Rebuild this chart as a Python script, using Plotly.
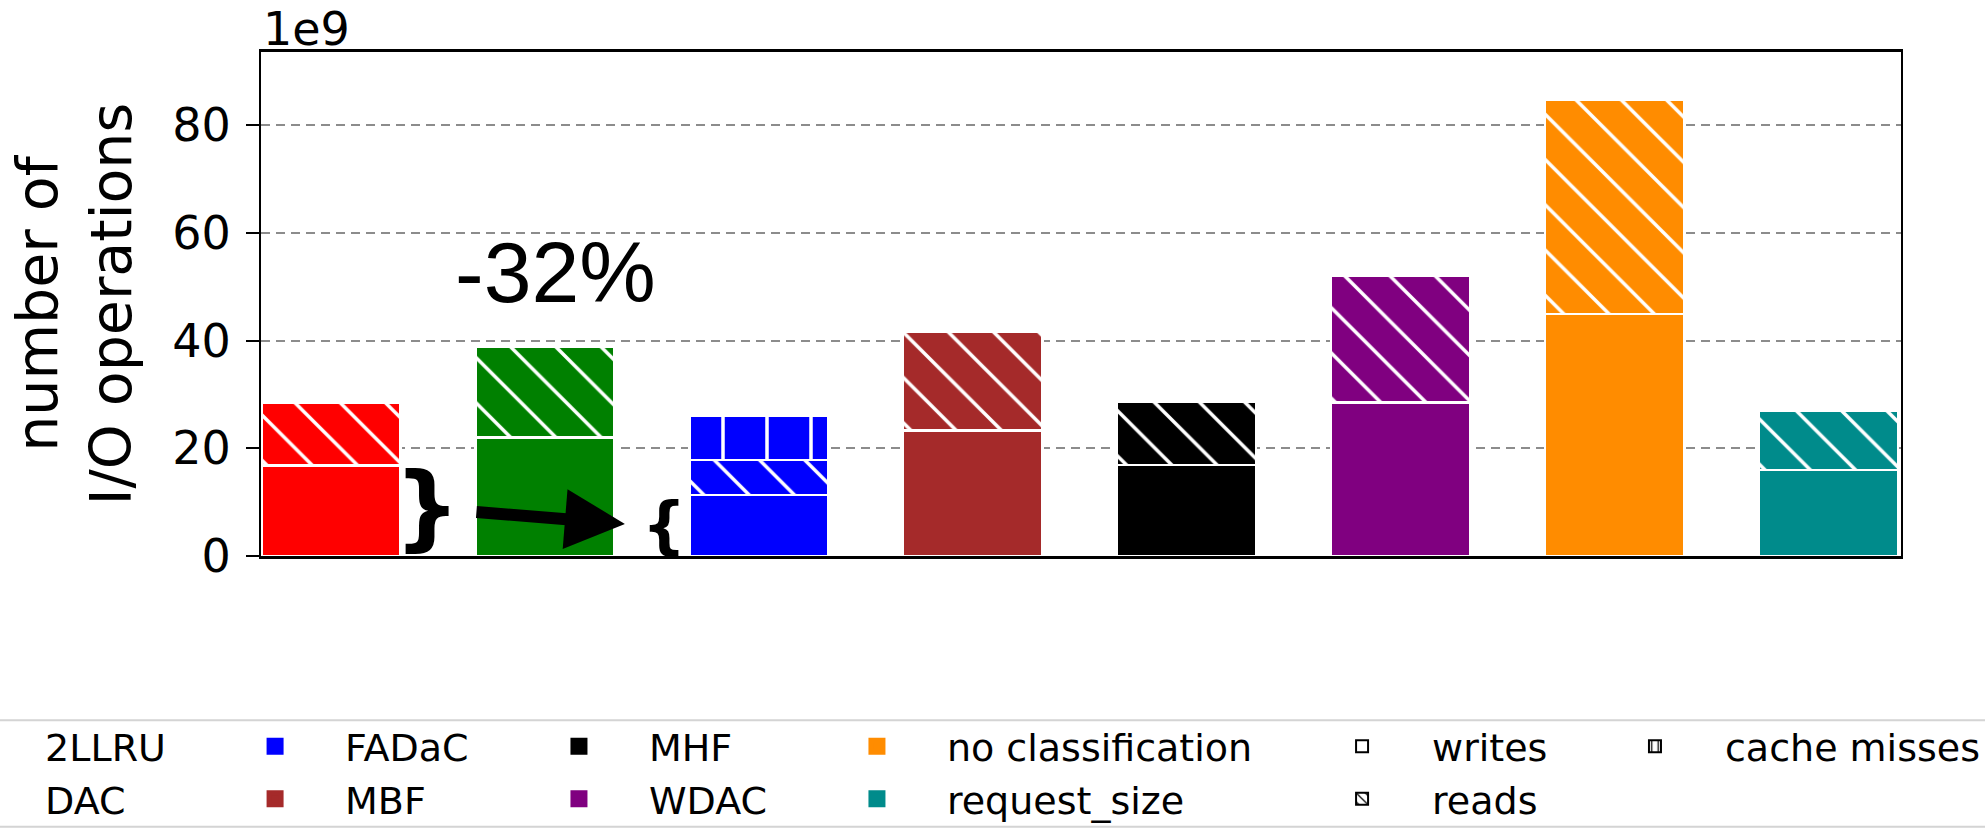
import plotly.graph_objects as go

# valeurs en milliards d'opérations (axe "1e9")
algorithms = ["2LLRU", "DAC", "FADaC", "MBF", "MHF", "WDAC",
              "no classification", "request_size"]
colors = ["#ff0000", "#008000", "#0000ff", "#a52a2a", "#000000", "#800080",
          "#ff8c00", "#008b8b"]
writes = [16.8, 22.0, 11.3, 23.3, 16.9, 28.5, 44.9, 16.0]
reads = [11.6, 16.8, 6.5, 18.4, 11.7, 23.5, 39.9, 10.9]
cache_alg = ["FADaC"]
cache_misses = [8.3]

y_ticks = [0, 20, 40, 60, 80]

# colonnes de la légende (comme matplotlib, ncol=6)
legend_cols = [
    ["2LLRU", "DAC"],
    ["FADaC", "MBF"],
    ["MHF", "WDAC"],
    ["no classification", "request_size"],
    ["writes", "reads"],
    ["cache misses"],
]
legend_x = [-0.217, -0.0341, 0.1512, 0.3329, 0.6287, 0.8073]

FONT = "DejaVu Sans"
BAR_W = 0.65


def legend_id(name):
    for i, col in enumerate(legend_cols):
        if name in col:
            return "legend" if i == 0 else f"legend{i + 1}"
    return "legend"


fig = go.Figure()

# écritures (bas de la pile)
fig.add_trace(go.Bar(
    x=algorithms, y=writes, width=BAR_W, showlegend=False,
    marker=dict(color=colors, line=dict(color="white", width=2.5)),
))

# lectures (hachures) -- couleur scalaire sinon plotly force le contraste
fig.add_trace(go.Bar(
    x=algorithms, y=reads, width=BAR_W, showlegend=False,
    marker=dict(
        color="white", line=dict(color="white", width=2.5),
        pattern=dict(shape="\\", fgcolor="white", bgcolor=colors,
                     fillmode="overlay", fgopacity=1, size=32, solidity=0.11),
    ),
))

# cache misses (FADaC seulement)
fig.add_trace(go.Bar(
    x=cache_alg, y=cache_misses, width=BAR_W, showlegend=False,
    marker=dict(
        color=colors[2], line=dict(color="white", width=2.5),
        pattern=dict(shape="|", fgcolor="white", bgcolor=colors[2],
                     fillmode="overlay", fgopacity=1, size=44, solidity=0.08),
    ),
))

# entrées de légende
for name, col in zip(algorithms, colors):
    fig.add_trace(go.Bar(
        x=[None], y=[None], name=name, legend=legend_id(name),
        marker=dict(color=col, line=dict(color=col, width=5)),
    ))

fig.add_trace(go.Bar(
    x=[None], y=[None], name="writes", legend=legend_id("writes"),
    marker=dict(color="white", line=dict(color="black", width=2)),
))
fig.add_trace(go.Bar(
    x=[None], y=[None], name="reads", legend=legend_id("reads"),
    marker=dict(color="white", line=dict(color="black", width=2),
                pattern=dict(shape="\\", fgcolor="black", bgcolor="white",
                             fillmode="overlay", fgopacity=1, size=8,
                             solidity=0.2)),
))
fig.add_trace(go.Bar(
    x=[None], y=[None], name="cache misses", legend=legend_id("cache misses"),
    marker=dict(color="white", line=dict(color="black", width=2),
                pattern=dict(shape="|", fgcolor="black", bgcolor="white",
                             fillmode="overlay", fgopacity=1, size=8,
                             solidity=0.2)),
))

# accolades + flèche + -32%
fig.add_annotation(x=1.05, y=52.7, text="-32%", showarrow=False,
                   font=dict(family="Liberation Sans", size=86, color="black"))
fig.add_annotation(x=0.449, y=9.1, text="<b>}</b>", showarrow=False,
                   font=dict(family=FONT, size=93, color="black"))
fig.add_annotation(x=1.557, y=5.8, text="<b>{</b>", showarrow=False,
                   font=dict(family=FONT, size=62, color="black"))
fig.add_annotation(x=1.374, y=5.95, ax=0.673, ay=8.18, axref="x", ayref="y",
                   text="", showarrow=True, arrowhead=2, arrowsize=1.0,
                   arrowwidth=12, arrowcolor="black", standoff=0)

# facteur d'échelle
fig.add_annotation(xref="paper", yref="paper", x=0, y=1, xanchor="left",
                   yanchor="middle", yshift=23, text="1e9", showarrow=False,
                   font=dict(family=FONT, size=46, color="black"))

# cadre de la légende
fig.add_shape(type="rect", xref="paper", yref="paper",
              x0=-0.2, x1=1.1, y0=-0.537, y1=-0.326,
              line=dict(color="#d4d4d4", width=2), fillcolor="rgba(0,0,0,0)")

legend_base = dict(
    xref="paper", yref="paper", y=-0.3157, xanchor="left", yanchor="top",
    orientation="v", traceorder="normal", bgcolor="rgba(0,0,0,0)",
    itemwidth=130, font=dict(family=FONT, size=38, color="black"),
    tracegroupgap=0, itemclick=False, itemdoubleclick=False,
)
for i, lx in enumerate(legend_x):
    key = "legend" if i == 0 else f"legend{i + 1}"
    fig.update_layout({key: dict(legend_base, x=lx)})

fig.update_layout(
    template="none",
    barmode="stack",
    width=1985, height=829,
    margin=dict(l=261, r=84, t=52, b=273, pad=0, autoexpand=False),
    paper_bgcolor="white", plot_bgcolor="white",
    font=dict(family=FONT, color="black"),
    xaxis=dict(
        type="category", range=[-0.327, 7.339], showticklabels=False,
        ticks="", showgrid=False, zeroline=False,
        showline=True, linecolor="black", linewidth=2.5, mirror=True,
    ),
    yaxis=dict(
        range=[0, 93.6], tickvals=y_ticks, ticks="outside", ticklen=13,
        tickwidth=2, tickcolor="black", tickfont=dict(size=46),
        ticklabelstandoff=6,
        showgrid=True, gridcolor="#8c8c8c", gridwidth=2, griddash="9px,6px",
        zeroline=False, showline=True, linecolor="black", linewidth=2,
        mirror=True, automargin=False,
        title=dict(text="number of<br>I/O operations",
                   font=dict(family=FONT, size=57), standoff=22),
    ),
)

# pas de marge autour de la figure dans la page
fig.write_html("out.html", config={"displayModeBar": False},
               post_script="document.body.style.margin = '0';")
